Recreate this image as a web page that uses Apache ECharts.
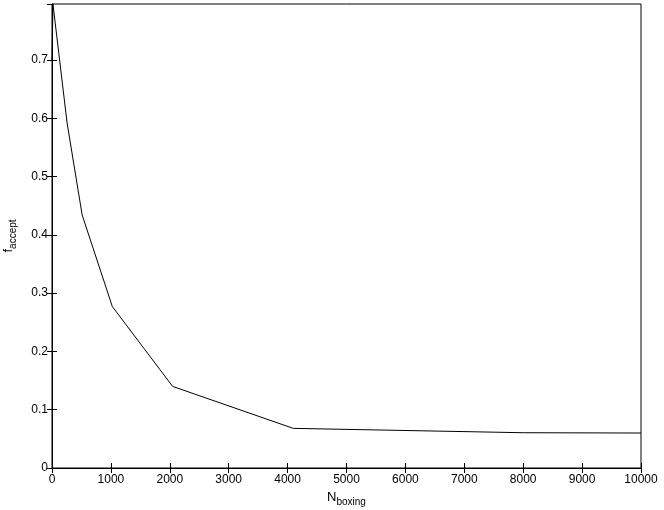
<!DOCTYPE html>
<html>
<head>
<meta charset="utf-8">
<script src="https://cdn.jsdelivr.net/npm/echarts@6/dist/echarts.min.js"></script>
<style>
  html, body { margin: 0; padding: 0; background: #fff; }
  #chart { width: 664px; height: 510px; }
</style>
</head>
<body>
<div id="chart"></div>
<script>
// N_boxing values and acceptance fraction
const nBoxing = [1, 16, 256, 512, 1024, 2048, 4096, 8000, 10000]
const fAccept = [0.70, 0.796, 0.592, 0.434, 0.277, 0.140, 0.068, 0.0605, 0.060]

const font = 'Liberation Sans, Arial, sans-serif'
const black = '#000'

const myChart = echarts.init(document.getElementById('chart'))

const tickStyle = { show: true, inside: true, length: 5, lineStyle: { color: black, width: 1 } }

const option = {
  animation: false,
  grid: {
    left: 52,
    right: 23,
    top: 4,
    bottom: 42,
    containLabel: false,
    outerBoundsMode: 'none',
    show: true,
    borderColor: black,
    borderWidth: 1
  },
  xAxis: [
    {
      type: 'value',
      min: 0,
      max: 10000,
      interval: 1000,
      axisLine: { show: true, onZero: false, lineStyle: { color: black } },
      axisTick: tickStyle,
      splitLine: { show: false },
      axisLabel: {
        color: black,
        fontFamily: font,
        fontSize: 12,
        margin: 6,
        formatter: (v) => String(v)
      },
      name: '{a|N}{b|boxing}',
      nameLocation: 'middle',
      nameGap: 18,
      nameTextStyle: {
        rich: {
          a: { fontFamily: font, fontSize: 13, color: black },
          b: { fontFamily: font, fontSize: 10, color: black, padding: [10, 0, 0, 0] }
        }
      }
    },
    {
      type: 'value',
      position: 'top',
      min: 0,
      max: 10000,
      interval: 1000,
      axisLine: { show: false },
      axisTick: tickStyle,
      axisLabel: { show: false },
      splitLine: { show: false }
    }
  ],
  yAxis: [
    {
      type: 'value',
      min: 0,
      max: 0.796,
      interval: 0.1,
      axisLine: { show: true, lineStyle: { color: black } },
      axisTick: tickStyle,
      splitLine: { show: false },
      axisLabel: {
        color: black,
        fontFamily: font,
        fontSize: 12,
        margin: 4,
        showMaxLabel: false,
        formatter: (v) => (Math.round(v * 10) / 10).toString()
      },
      name: '{a|f}{b|accept}',
      nameLocation: 'middle',
      nameGap: 34,
      nameTextStyle: {
        rich: {
          a: { fontFamily: font, fontSize: 13, color: black },
          b: { fontFamily: font, fontSize: 10, color: black, padding: [10, 0, 0, 0] }
        }
      }
    },
    {
      type: 'value',
      position: 'right',
      min: 0,
      max: 0.796,
      interval: 0.1,
      axisLine: { show: false },
      axisTick: tickStyle,
      axisLabel: { show: false },
      splitLine: { show: false }
    }
  ],
  series: [
    {
      type: 'line',
      data: nBoxing.map((n, i) => [n, fAccept[i]]),
      showSymbol: false,
      lineStyle: { color: black, width: 1 },
      silent: true
    }
  ]
}

myChart.setOption(option)
</script>
</body>
</html>
